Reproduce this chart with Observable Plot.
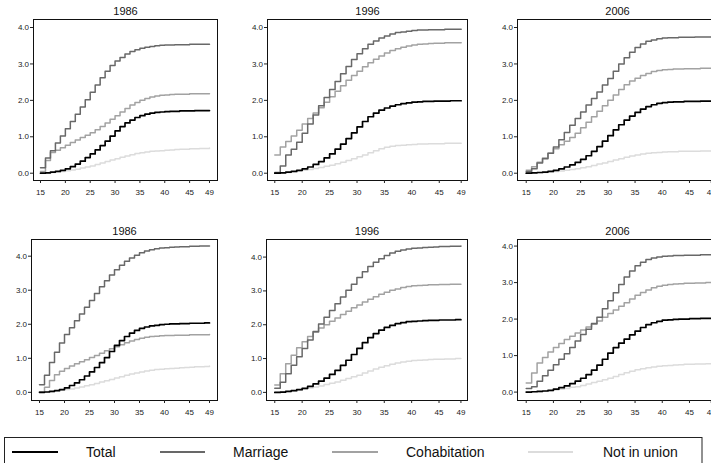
<!DOCTYPE html>
<html>
<head>
<meta charset="utf-8">
<script src="https://cdn.jsdelivr.net/npm/d3@7"></script>
<script src="https://cdn.jsdelivr.net/npm/@observablehq/plot@0.6"></script>
<style>
  html, body { margin: 0; padding: 0; background: #fff; }
  #chart { position: relative; width: 711px; height: 463px; overflow: hidden; background: #fff;
           font-family: "Liberation Sans", Arial, sans-serif; }
  #chart > svg { position: absolute; }
</style>
</head>
<body>
<div id="chart"></div>
<script>
// ---------- data ----------
const ages = [15,16,17,18,19,20,21,22,23,24,25,26,27,28,29,30,31,32,33,34,35,36,37,38,39,40,41,42,43,44,45,46,47,48,49];
const seriesNames = ["Total", "Marriage", "Cohabitation", "Not in union"];
const xTicks = [15, 20, 25, 30, 35, 40, 45, 49];
const yTicks = [0, 1, 2, 3, 4];
const panelTitles = ["1986", "1996", "2006", "1986", "1996", "2006"];

// top row, 1986
const a1986Total    = [0.00,0.01,0.03,0.05,0.08,0.12,0.18,0.25,0.33,0.43,0.53,0.64,0.76,0.88,1.02,1.16,1.28,1.38,1.46,1.53,1.58,1.62,1.65,1.67,1.68,1.69,1.70,1.70,1.71,1.71,1.71,1.72,1.72,1.72,1.72];
const a1986Marriage = [0.15,0.42,0.62,0.83,1.02,1.22,1.42,1.62,1.82,2.02,2.22,2.42,2.62,2.80,2.96,3.08,3.18,3.27,3.34,3.39,3.43,3.46,3.48,3.50,3.51,3.52,3.52,3.53,3.53,3.53,3.54,3.54,3.54,3.54,3.54];
const a1986Cohab    = [0.05,0.35,0.57,0.63,0.70,0.77,0.84,0.91,0.98,1.04,1.11,1.19,1.28,1.38,1.48,1.58,1.68,1.78,1.87,1.94,2.00,2.05,2.09,2.12,2.14,2.15,2.16,2.17,2.17,2.17,2.18,2.18,2.18,2.18,2.18];
const a1986NotUnion = [0.00,0.01,0.02,0.03,0.05,0.07,0.09,0.11,0.14,0.17,0.20,0.24,0.28,0.32,0.36,0.40,0.44,0.47,0.51,0.54,0.56,0.58,0.60,0.61,0.62,0.63,0.64,0.65,0.66,0.66,0.67,0.67,0.68,0.68,0.69];
// top row, 1996
const a1996Total    = [0.00,0.01,0.03,0.05,0.08,0.12,0.17,0.24,0.32,0.42,0.53,0.66,0.80,0.95,1.11,1.27,1.42,1.55,1.65,1.73,1.79,1.84,1.88,1.91,1.93,1.95,1.96,1.97,1.97,1.98,1.98,1.98,1.99,1.99,1.99];
const a1996Marriage = [0.02,0.20,0.50,0.66,0.85,1.10,1.35,1.60,1.85,2.08,2.30,2.52,2.73,2.93,3.12,3.28,3.42,3.54,3.63,3.71,3.77,3.82,3.86,3.88,3.90,3.92,3.93,3.93,3.94,3.94,3.94,3.95,3.95,3.95,3.95];
const a1996Cohab    = [0.50,0.72,0.87,1.02,1.18,1.35,1.50,1.65,1.80,1.95,2.10,2.25,2.40,2.55,2.68,2.80,2.92,3.03,3.13,3.22,3.30,3.37,3.42,3.46,3.49,3.52,3.54,3.55,3.56,3.57,3.57,3.58,3.58,3.58,3.58];
const a1996NotUnion = [0.00,0.01,0.02,0.04,0.06,0.08,0.10,0.13,0.16,0.19,0.22,0.26,0.30,0.35,0.40,0.45,0.50,0.56,0.62,0.67,0.71,0.74,0.76,0.77,0.78,0.79,0.80,0.80,0.81,0.81,0.81,0.82,0.82,0.82,0.82];
// top row, 2006
const a2006Total    = [0.00,0.01,0.02,0.03,0.05,0.08,0.12,0.17,0.23,0.30,0.38,0.48,0.60,0.73,0.88,1.03,1.19,1.33,1.46,1.57,1.67,1.76,1.83,1.88,1.92,1.94,1.95,1.96,1.96,1.97,1.97,1.97,1.98,1.98,1.98];
const a2006Marriage = [0.05,0.12,0.28,0.40,0.55,0.72,0.92,1.12,1.32,1.50,1.68,1.87,2.05,2.23,2.42,2.60,2.80,3.00,3.17,3.32,3.45,3.55,3.62,3.66,3.69,3.71,3.72,3.72,3.73,3.73,3.73,3.74,3.74,3.74,3.74];
const a2006Cohab    = [0.08,0.18,0.30,0.42,0.55,0.67,0.78,0.88,0.98,1.10,1.25,1.40,1.55,1.70,1.85,2.00,2.15,2.30,2.43,2.53,2.61,2.68,2.74,2.79,2.82,2.84,2.85,2.86,2.86,2.87,2.87,2.87,2.88,2.88,2.88];
const a2006NotUnion = [0.00,0.01,0.01,0.02,0.03,0.05,0.06,0.08,0.10,0.12,0.15,0.18,0.21,0.25,0.28,0.32,0.36,0.40,0.44,0.47,0.50,0.53,0.55,0.56,0.57,0.58,0.59,0.59,0.60,0.60,0.60,0.60,0.61,0.61,0.61];
// bottom row, 1986
const b1986Total    = [0.00,0.01,0.03,0.05,0.08,0.13,0.20,0.28,0.37,0.48,0.60,0.73,0.87,1.02,1.20,1.38,1.52,1.64,1.74,1.82,1.88,1.92,1.95,1.97,1.99,2.00,2.01,2.01,2.02,2.02,2.03,2.03,2.03,2.04,2.04];
const b1986Marriage = [0.22,0.50,0.88,1.18,1.45,1.70,1.90,2.10,2.30,2.50,2.70,2.90,3.10,3.28,3.45,3.60,3.73,3.85,3.95,4.03,4.10,4.15,4.19,4.22,4.24,4.25,4.26,4.27,4.28,4.28,4.29,4.29,4.30,4.30,4.30];
const b1986Cohab    = [0.02,0.15,0.35,0.52,0.62,0.70,0.77,0.84,0.90,0.96,1.02,1.08,1.15,1.22,1.28,1.34,1.40,1.46,1.51,1.55,1.59,1.62,1.64,1.65,1.66,1.67,1.67,1.68,1.68,1.68,1.69,1.69,1.69,1.69,1.70];
const b1986NotUnion = [0.00,0.01,0.02,0.04,0.06,0.08,0.10,0.13,0.16,0.19,0.22,0.26,0.30,0.34,0.38,0.42,0.46,0.50,0.54,0.57,0.60,0.63,0.65,0.67,0.68,0.69,0.70,0.71,0.72,0.73,0.74,0.75,0.75,0.76,0.77];
// bottom row, 1996
const b1996Total    = [0.00,0.01,0.03,0.05,0.08,0.12,0.18,0.25,0.33,0.42,0.53,0.65,0.80,0.95,1.12,1.30,1.47,1.62,1.74,1.84,1.92,1.98,2.03,2.06,2.09,2.10,2.11,2.12,2.13,2.13,2.14,2.14,2.14,2.15,2.15];
const b1996Marriage = [0.12,0.30,0.55,0.80,1.05,1.30,1.55,1.80,2.02,2.22,2.42,2.62,2.82,3.02,3.20,3.40,3.57,3.72,3.85,3.95,4.05,4.12,4.17,4.21,4.24,4.26,4.27,4.28,4.29,4.30,4.31,4.31,4.32,4.32,4.33];
const b1996Cohab    = [0.22,0.55,0.85,1.10,1.32,1.50,1.65,1.78,1.90,2.00,2.10,2.20,2.30,2.40,2.50,2.58,2.67,2.75,2.83,2.90,2.96,3.02,3.06,3.10,3.13,3.15,3.16,3.17,3.18,3.18,3.19,3.19,3.20,3.20,3.20];
const b1996NotUnion = [0.00,0.01,0.02,0.04,0.07,0.10,0.13,0.16,0.19,0.23,0.27,0.31,0.36,0.41,0.46,0.51,0.57,0.63,0.69,0.74,0.79,0.83,0.87,0.90,0.92,0.94,0.95,0.96,0.97,0.98,0.98,0.99,0.99,1.00,1.00];
// bottom row, 2006
const b2006Total    = [0.00,0.01,0.02,0.03,0.05,0.08,0.12,0.17,0.23,0.30,0.38,0.48,0.60,0.74,0.90,1.07,1.22,1.34,1.45,1.57,1.67,1.77,1.85,1.90,1.94,1.97,1.98,1.99,2.00,2.00,2.01,2.01,2.02,2.02,2.02];
const b2006Marriage = [0.10,0.15,0.30,0.45,0.60,0.75,0.90,1.05,1.22,1.40,1.58,1.72,1.88,2.05,2.28,2.50,2.72,2.95,3.15,3.32,3.46,3.56,3.63,3.67,3.70,3.72,3.73,3.74,3.74,3.75,3.75,3.75,3.76,3.76,3.76];
const b2006Cohab    = [0.25,0.52,0.80,0.95,1.10,1.22,1.33,1.44,1.53,1.62,1.70,1.78,1.86,1.95,2.05,2.15,2.25,2.35,2.45,2.55,2.65,2.73,2.80,2.86,2.90,2.93,2.95,2.96,2.97,2.98,2.98,2.99,2.99,3.00,3.00];
const b2006NotUnion = [0.00,0.01,0.01,0.02,0.04,0.06,0.08,0.10,0.13,0.15,0.18,0.22,0.26,0.30,0.34,0.38,0.43,0.48,0.53,0.57,0.61,0.64,0.67,0.69,0.71,0.72,0.73,0.74,0.75,0.76,0.76,0.77,0.77,0.78,0.78];

const panelSeries = [
  [a1986Total, a1986Marriage, a1986Cohab, a1986NotUnion],
  [a1996Total, a1996Marriage, a1996Cohab, a1996NotUnion],
  [a2006Total, a2006Marriage, a2006Cohab, a2006NotUnion],
  [b1986Total, b1986Marriage, b1986Cohab, b1986NotUnion],
  [b1996Total, b1996Marriage, b1996Cohab, b1996NotUnion],
  [b2006Total, b2006Marriage, b2006Cohab, b2006NotUnion]
];

// ---------- styles / layout ----------
const seriesColors = {"Total": "#000000", "Marriage": "#686868", "Cohabitation": "#a2a2a2", "Not in union": "#dcdcdc"};
const seriesWidths = {"Total": 1.7, "Marriage": 1.5, "Cohabitation": 1.5, "Not in union": 1.5};
const drawOrder = ["Not in union", "Cohabitation", "Marriage", "Total"];

const layout = [
  {left: 0,   top: 0,   width: 225, ml: 33, mr: 8, xd: [13.59, 50.61], yd: [-0.20, 4.22]},
  {left: 232, top: 0,   width: 240, ml: 35, mr: 5, xd: [13.67, 50.15], yd: [-0.20, 4.22]},
  {left: 480, top: 0,   width: 240, ml: 37, mr: 3, xd: [13.40, 50.15], yd: [-0.20, 4.22]},
  {left: 0,   top: 220, width: 225, ml: 31, mr: 8, xd: [13.40, 50.60], yd: [-0.24, 4.49]},
  {left: 232, top: 220, width: 240, ml: 34, mr: 5, xd: [13.49, 50.20], yd: [-0.24, 4.52]},
  {left: 480, top: 220, width: 240, ml: 37, mr: 3, xd: [13.40, 50.15], yd: [-0.23, 4.18]}
];

const chart = document.getElementById("chart");

layout.forEach((L, i) => {
  const rows = [];
  drawOrder.forEach(name => {
    const vals = panelSeries[i][seriesNames.indexOf(name)];
    ages.forEach((a, j) => rows.push({age: a, value: vals[j], series: name}));
  });
  const marks = [
    Plot.frame({stroke: "#111", strokeWidth: 1}),
    Plot.axisX({ticks: xTicks, tickSize: 3, tickPadding: 6, fontSize: 8, tickFormat: d => String(d)}),
    Plot.axisY({ticks: yTicks, tickSize: 3, tickPadding: 1.5, fontSize: 8, tickFormat: d3.format(".1f")}),
    ...drawOrder.map(name => Plot.line(rows.filter(r => r.series === name), {
      x: "age", y: "value", curve: "step-after",
      stroke: seriesColors[name], strokeWidth: seriesWidths[name]
    })),
    Plot.text([panelTitles[i]], {frameAnchor: "top", lineAnchor: "middle", dy: -8, fontSize: 11, fill: "#111"})
  ];
  const svg = Plot.plot({
    width: L.width, height: 205,
    marginLeft: L.ml, marginRight: L.mr, marginTop: 19, marginBottom: 25,
    x: {domain: L.xd, label: null},
    y: {domain: L.yd, label: null},
    style: {fontFamily: "'Liberation Sans', Arial, sans-serif", fontSize: "8px", color: "#222", background: "transparent", overflow: "visible"},
    marks
  });
  svg.style.left = L.left + "px";
  svg.style.top = L.top + "px";
  chart.appendChild(svg);
});

// ---------- legend ----------
const legendItems = [
  {name: "Total",        x1: 12,  x2: 58,  tx: 86},
  {name: "Marriage",     x1: 160, x2: 205, tx: 233},
  {name: "Cohabitation", x1: 332, x2: 378, tx: 406},
  {name: "Not in union", x1: 528, x2: 573, tx: 603}
];
const leg = d3.create("svg").attr("width", 711).attr("height", 463)
  .style("left", "0px").style("top", "0px");
leg.append("rect").attr("x", 4.5).attr("y", 437.5).attr("width", 697.5).attr("height", 60)
  .attr("fill", "none").attr("stroke", "#222").attr("stroke-width", 1);
legendItems.forEach(it => {
  leg.append("line").attr("x1", it.x1).attr("x2", it.x2).attr("y1", 452).attr("y2", 452)
    .attr("stroke", seriesColors[it.name]).attr("stroke-width", 2);
  leg.append("text").attr("x", it.tx).attr("y", 452).attr("dy", "0.35em")
    .attr("font-size", 14).attr("fill", "#111")
    .attr("font-family", "'Liberation Sans', Arial, sans-serif").text(it.name);
});
chart.appendChild(leg.node());
</script>
</body>
</html>
